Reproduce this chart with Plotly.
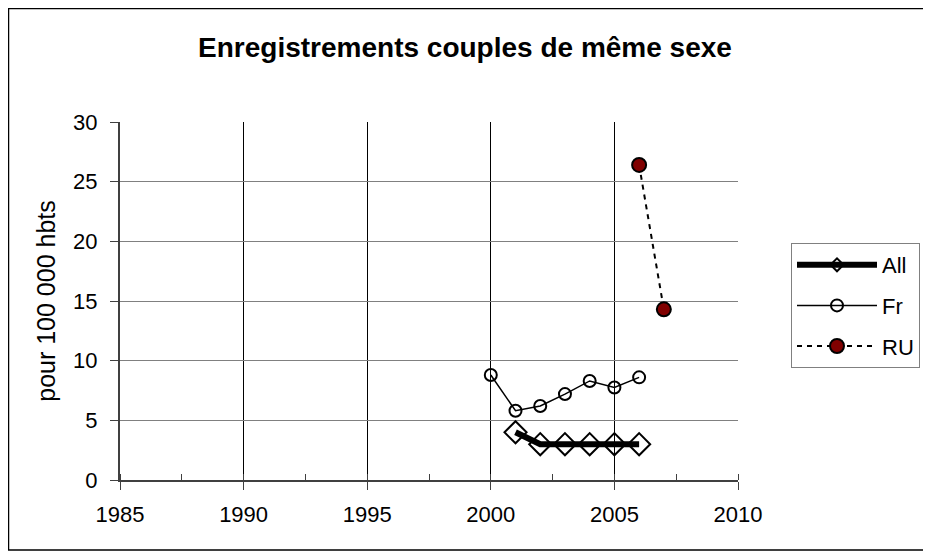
import plotly.graph_objects as go

# values
years_all = [2001, 2002, 2003, 2004, 2005, 2006]
vals_all = [4.0, 3.0, 3.0, 3.0, 3.0, 3.0]

years_fr = [2000, 2001, 2002, 2003, 2004, 2005, 2006]
vals_fr = [8.8, 5.8, 6.2, 7.2, 8.3, 7.75, 8.6]

years_ru = [2006, 2007]
vals_ru = [26.4, 14.3]

FONT = "Liberation Sans, Arial, sans-serif"

# page body has an 8px margin, so margins are shifted to compensate
L, R, T, B = 112, 201, 114, 85
PW = 931 - L - R
PH = 557 - T - B

fig = go.Figure()

fig.add_trace(go.Scatter(
    x=years_all, y=vals_all, name="All", mode="lines+markers", showlegend=False,
    line=dict(color="black", width=6),
    marker=dict(symbol="diamond-open", size=17, color="black", line=dict(width=2, color="black")),
))
# legend-only entry so the legend diamond stays small like the original
fig.add_trace(go.Scatter(
    x=[None], y=[None], name="All", mode="lines+markers", legendgroup="all",
    line=dict(color="black", width=6),
    marker=dict(symbol="diamond-open", size=10, color="black", line=dict(width=2, color="black")),
))
fig.add_trace(go.Scatter(
    x=years_fr, y=vals_fr, name="Fr", mode="lines+markers", legendgroup="fr",
    line=dict(color="black", width=1.5),
    marker=dict(symbol="circle-open", size=12, color="black", line=dict(width=2, color="black")),
))
fig.add_trace(go.Scatter(
    x=years_ru, y=vals_ru, name="RU", mode="lines+markers", legendgroup="ru",
    line=dict(color="black", width=2, dash="5px,5px"),
    marker=dict(symbol="circle", size=14, color="#800000", line=dict(width=2, color="black")),
))

fig.update_layout(
    width=931, height=557,
    margin=dict(l=L, r=R, t=T, b=B),
    paper_bgcolor="white", plot_bgcolor="white",
    font=dict(family=FONT, size=22, color="black"),
    title=dict(text="<b>Enregistrements couples de même sexe</b>",
               x=(465 - 8) / 931, xanchor="center", y=1 - 39 / 557, yanchor="middle",
               font=dict(size=28, family=FONT, color="black")),
    legend=dict(x=(783 - L) / PW, y=(472 - 235) / PH, xanchor="left", yanchor="top",
                bordercolor="#808080", borderwidth=1, bgcolor="white",
                font=dict(size=22, family=FONT), traceorder="grouped",
                tracegroupgap=9, itemwidth=80),
    showlegend=True,
)

fig.update_xaxes(
    range=[1985, 2010], dtick=5, tick0=1985,
    showgrid=True, gridcolor="black", gridwidth=1,
    showline=True, linecolor="#404040", linewidth=2,
    ticks="outside", ticklen=8, tickcolor="#404040",
    minor=dict(dtick=2.5, ticks="inside", ticklen=6, tickcolor="#404040", showgrid=False),
    zeroline=False, tickfont=dict(size=22), ticklabelstandoff=6,
)
fig.update_yaxes(
    range=[0, 30], dtick=5,
    showgrid=True, gridcolor="#808080", gridwidth=1,
    showline=True, linecolor="#404040", linewidth=2,
    ticks="outside", ticklen=8, tickcolor="#404040",
    zeroline=False, tickfont=dict(size=22), ticklabelstandoff=8,
    title=dict(text="pour 100 000 hbts", standoff=10, font=dict(size=25)),
)

# outer chart border
fig.add_shape(type="rect", xref="paper", yref="paper",
              x0=(0.5 - L) / PW, x1=(916 - L) / PW,
              y0=(T + PH - 542) / PH, y1=(T + PH - 0.5) / PH,
              line=dict(color="black", width=1.5), layer="below")

fig.write_html("out.html")
